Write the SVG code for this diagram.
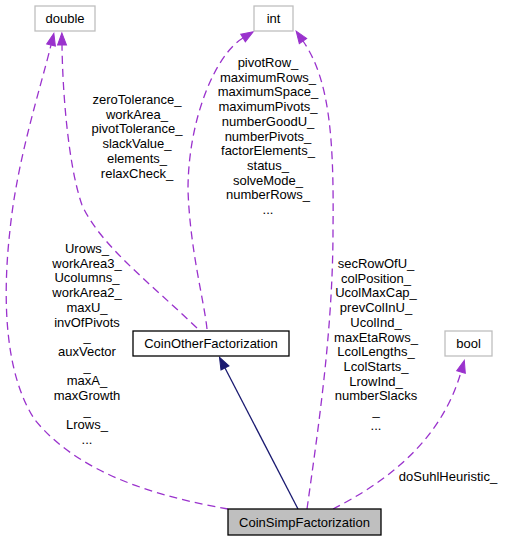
<svg xmlns="http://www.w3.org/2000/svg" width="505" height="541" viewBox="0 0 505 541">
<style>
text{font-family:"Liberation Sans",Arial,sans-serif;font-size:13px;fill:#000;text-anchor:middle}
.ext{fill:#fff;stroke:#bfbfbf;stroke-width:1.3}
.cls{fill:#fff;stroke:#000;stroke-width:1.3}
.cur{fill:#bfbfbf;stroke:#000;stroke-width:1.3}
.use{fill:none;stroke:#9a32cd;stroke-width:1.3;stroke-dasharray:8,5;marker-end:url(#ap)}
.inh{fill:none;stroke:#191970;stroke-width:1.3;marker-end:url(#an)}
</style>
<defs>
<marker id="ap" markerUnits="userSpaceOnUse" markerWidth="13" markerHeight="10" refX="0" refY="4.5" orient="auto" overflow="visible">
<path d="M0,0 L12,4.5 L0,9 Z" fill="#9a32cd" stroke="#9a32cd" stroke-width="1" stroke-dasharray="none"/>
</marker>
<marker id="an" markerUnits="userSpaceOnUse" markerWidth="13" markerHeight="10" refX="0" refY="4.5" orient="auto" overflow="visible">
<path d="M0,0 L12,4.5 L0,9 Z" fill="#191970" stroke="#191970" stroke-width="1"/>
</marker>
</defs>
<g id="connectors">
<path class="use" d="M197,328 C150,283 100,245 82,205 C68,165 62.5,90 62,45"/>
<path class="use" d="M228,509 C160,497 80,475 35,420 C5,375 2,300 10,230 C17,160 40,90 51,45"/>
<path class="use" d="M207,329 C204,300 190,250 188,190 C188,120 215,55 243,38"/>
<path class="use" d="M307,509 C318,430 333,330 333,230 C334,140 330,80 303,41"/>
<path class="use" d="M333,509 C380,485 440,445 461,372"/>
<path class="inh" d="M298,509 L225,368"/>
<text x="137" y="104">zeroTolerance_</text>
<text x="137" y="118.7">workArea_</text>
<text x="137" y="133.4">pivotTolerance_</text>
<text x="137" y="148.1">slackValue_</text>
<text x="137" y="162.8">elements_</text>
<text x="137" y="177.5">relaxCheck_</text>
<text x="268" y="67">pivotRow_</text>
<text x="268" y="81.7">maximumRows_</text>
<text x="268" y="96.4">maximumSpace_</text>
<text x="268" y="111.1">maximumPivots_</text>
<text x="268" y="125.8">numberGoodU_</text>
<text x="268" y="140.5">numberPivots_</text>
<text x="268" y="155.2">factorElements_</text>
<text x="268" y="169.9">status_</text>
<text x="268" y="184.6">solveMode_</text>
<text x="268" y="199.3">numberRows_</text>
<text x="268" y="214">...</text>
<text x="87" y="253">Urows_</text>
<text x="87" y="267.7">workArea3_</text>
<text x="87" y="282.4">Ucolumns_</text>
<text x="87" y="297.1">workArea2_</text>
<text x="87" y="311.8">maxU_</text>
<text x="87" y="326.5">invOfPivots</text>
<text x="87" y="341.2">_</text>
<text x="87" y="355.9">auxVector</text>
<text x="87" y="370.6">_</text>
<text x="87" y="385.3">maxA_</text>
<text x="87" y="400">maxGrowth</text>
<text x="87" y="414.7">_</text>
<text x="87" y="429.4">Lrows_</text>
<text x="87" y="444.1">...</text>
<text x="376" y="268">secRowOfU_</text>
<text x="376" y="282.7">colPosition_</text>
<text x="376" y="297.4">UcolMaxCap_</text>
<text x="376" y="312.1">prevColInU_</text>
<text x="376" y="326.8">UcolInd_</text>
<text x="376" y="341.5">maxEtaRows_</text>
<text x="376" y="356.2">LcolLengths_</text>
<text x="376" y="370.9">LcolStarts_</text>
<text x="376" y="385.6">LrowInd_</text>
<text x="376" y="400.3">numberSlacks</text>
<text x="376" y="415">_</text>
<text x="376" y="429.7">...</text>
<text x="448" y="481">doSuhlHeuristic_</text>
</g>
<g id="node-double">
<rect class="ext" x="35" y="6" width="60" height="25"/>
<text x="65" y="23">double</text>
</g>
<g id="node-int">
<rect class="ext" x="254" y="6" width="39" height="25"/>
<text x="273.5" y="23">int</text>
</g>
<g id="node-bool">
<rect class="ext" x="445" y="331" width="47" height="25"/>
<text x="468.5" y="348">bool</text>
</g>
<g id="node-CoinOtherFactorization">
<rect class="cls" x="133" y="331" width="156" height="25"/>
<text x="211" y="348">CoinOtherFactorization</text>
</g>
<g id="node-CoinSimpFactorization">
<rect class="cur" x="228" y="509" width="153" height="26"/>
<text x="304.5" y="526.5">CoinSimpFactorization</text>
</g>
</svg>
